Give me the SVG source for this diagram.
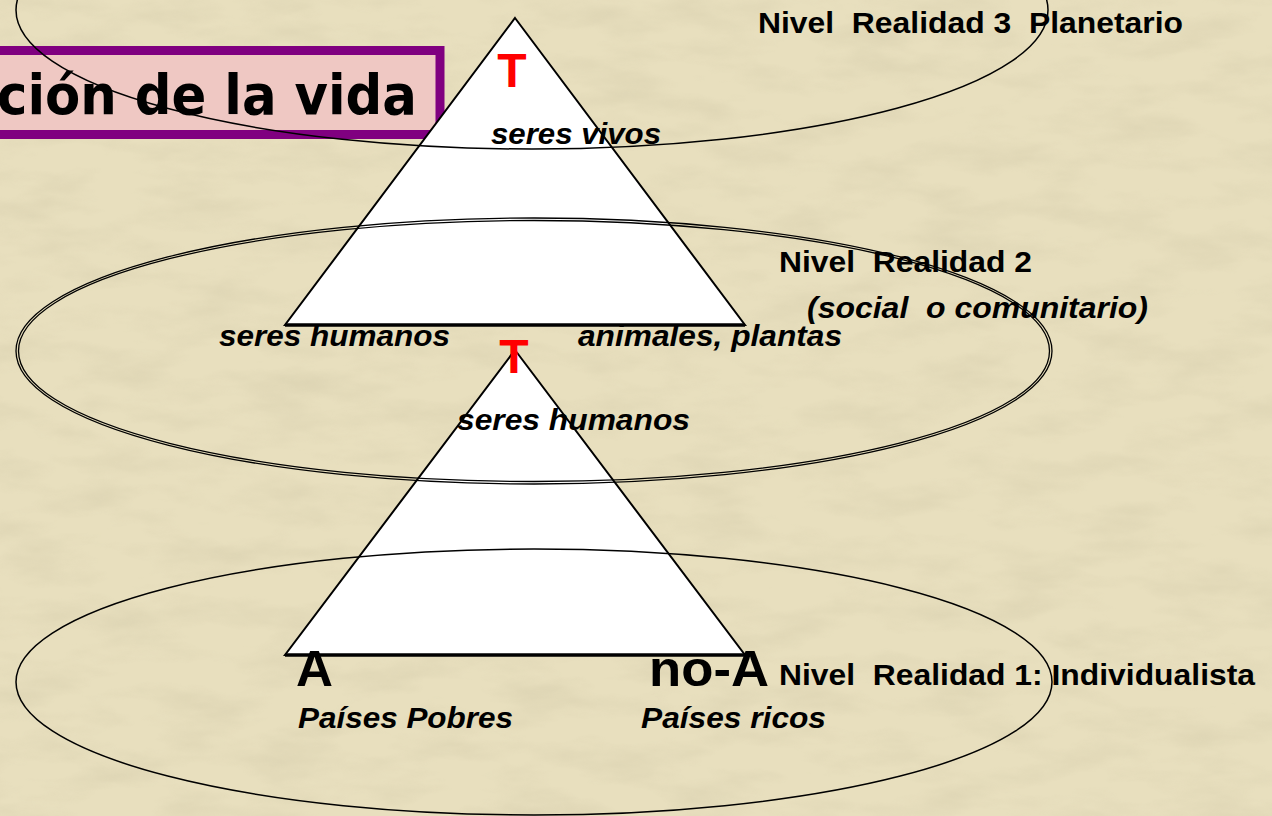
<svg xmlns="http://www.w3.org/2000/svg" width="1272" height="816" viewBox="0 0 1272 816">
  <defs>
    <filter id="paper" x="0" y="0" width="100%" height="100%">
      <feTurbulence type="fractalNoise" baseFrequency="0.012 0.035" numOctaves="4" seed="7" result="n"/>
      <feColorMatrix in="n" type="matrix" values="0 0 0 0 0.55  0 0 0 0 0.5  0 0 0 0 0.33  0.9 0 0 0 -0.38"/>
    </filter>
    <style>
      .lbl { font-family: "Liberation Sans", Arial, sans-serif; font-weight: bold; font-size: 29px; fill: #000; white-space: pre; }
      .it { font-style: italic; }
      .big { font-size: 50px; }
      .tee { font-family: "Liberation Sans", Arial, sans-serif; font-weight: bold; font-size: 48px; fill: #ff0000; text-anchor: middle; }
      .tri { fill: #ffffff; stroke: #000; stroke-width: 2; stroke-linejoin: miter; }
      .base { stroke: #000; stroke-width: 3.5; }
      .ell { fill: none; stroke: #000; stroke-width: 1.5; }
      .ell2 { fill: none; stroke: #000; stroke-width: 1.3; }
    </style>
  </defs>

  <!-- background -->
  <rect width="1272" height="816" fill="#e8dfbe"/>
  <rect width="1272" height="816" filter="url(#paper)" opacity="0.6"/>

  <!-- title box -->
  <g id="title">
    <rect x="-20" y="50.5" width="460" height="84" fill="#efc8c3" stroke="#800080" stroke-width="9"/>
    <text x="-3" y="114" textLength="420" lengthAdjust="spacingAndGlyphs" style="font-family: 'DejaVu Sans', Verdana, sans-serif; font-weight: bold; font-size: 55px; fill: #000;">ción de la vida</text>
  </g>

  <!-- upper pyramid -->
  <g id="pyramid-top">
    <polygon class="tri" points="515,18 745,325 285,325"/>
    <line class="base" x1="285" y1="325" x2="745" y2="325"/>
    <text class="tee" x="512" y="87">T</text>
    <text class="lbl it" x="491" y="144" textLength="170" lengthAdjust="spacingAndGlyphs">seres vivos</text>
  </g>

  <!-- lower pyramid -->
  <g id="pyramid-bottom">
    <polygon class="tri" points="515,350 745,655 285,655"/>
    <line class="base" x1="285" y1="655" x2="745" y2="655"/>
    <text class="tee" x="514" y="373">T</text>
    <text class="lbl it" x="457" y="430" textLength="233" lengthAdjust="spacingAndGlyphs">seres humanos</text>
  </g>

  <!-- labels -->
  <g id="labels">
    <text class="lbl" x="758" y="33" textLength="425" lengthAdjust="spacingAndGlyphs">Nivel  Realidad 3  Planetario</text>
    <text class="lbl it" x="219" y="346" textLength="231" lengthAdjust="spacingAndGlyphs">seres humanos</text>
    <text class="lbl it" x="578" y="346" textLength="264" lengthAdjust="spacingAndGlyphs">animales, plantas</text>
    <text class="lbl" x="779" y="272" textLength="253" lengthAdjust="spacingAndGlyphs">Nivel  Realidad 2</text>
    <text class="lbl it" x="807" y="318" textLength="341" lengthAdjust="spacingAndGlyphs">(social  o comunitario)</text>
    <text class="lbl big" x="296" y="686" textLength="37" lengthAdjust="spacingAndGlyphs">A</text>
    <text class="lbl big" x="649" y="686" textLength="120" lengthAdjust="spacingAndGlyphs">no-A</text>
    <text class="lbl" x="779" y="685" textLength="476" lengthAdjust="spacingAndGlyphs">Nivel  Realidad 1: Individualista</text>
    <text class="lbl it" x="298" y="728" textLength="215" lengthAdjust="spacingAndGlyphs">Países Pobres</text>
    <text class="lbl it" x="641" y="728" textLength="185" lengthAdjust="spacingAndGlyphs">Países ricos</text>
  </g>

  <!-- level ellipses -->
  <g id="connectors">
    <ellipse id="level3" class="ell" cx="532" cy="10" rx="516" ry="139"/>
    <g id="level2">
      <ellipse class="ell2" cx="534" cy="351" rx="518" ry="133"/>
      <ellipse class="ell2" cx="534" cy="351" rx="515.5" ry="130.5"/>
    </g>
    <ellipse id="level1" class="ell" cx="534" cy="682" rx="518" ry="133"/>
  </g>
</svg>
